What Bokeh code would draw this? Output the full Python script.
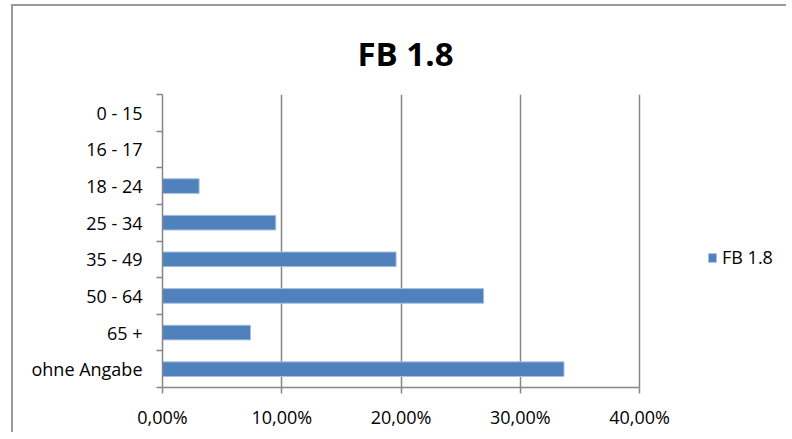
from bokeh.plotting import figure
from bokeh.models import ColumnDataSource, FixedTicker, Range1d, Legend, LegendItem
from bokeh.embed import file_html
from bokeh.resources import INLINE

categories = ["0 - 15", "16 - 17", "18 - 24", "25 - 34", "35 - 49", "50 - 64", "65 +", "ohne Angabe"]
values = [0.0, 0.0, 0.0307, 0.0950, 0.1959, 0.2693, 0.0738, 0.3367]
series_name = "FB 1.8"
x_ticks = [0.0, 0.1, 0.2, 0.3, 0.4]
x_tick_labels = ["0,00%", "10,00%", "20,00%", "30,00%", "40,00%"]

FONT = "Open Sans"
GRID = "#868686"
n = len(categories)
ypos = [n - i - 0.5 for i in range(n)]

W, H = 775, 428
LEFT, TOP, BOTTOM = 149, 88, 47
AXIS_PX = 477  # pixel length of the 0..40% axis
x_end = x_ticks[-1] * (W - LEFT) / AXIS_PX

src = ColumnDataSource(dict(y=ypos, v=values, cat=categories))

p = figure(width=W, height=H, output_backend="svg", toolbar_location=None,
           x_range=Range1d(0, x_end), y_range=Range1d(0, n),
           min_border_left=LEFT, min_border_right=0, min_border_top=TOP, min_border_bottom=BOTTOM)
p.styles = {"margin-left": "11px", "margin-top": "4px",
            "border-left": "2px solid #9a9a9a", "border-top": "2px solid #9a9a9a"}

p.title.text = series_name
p.title.align = "left"
p.title.text_font = FONT
p.title.text_font_size = "33px"
p.title.text_font_style = "bold"
p.title.text_color = "#000000"
p.title.offset = 195
p.title.standoff = 37

r = p.hbar(y="y", right="v", left=0, height=0.4, source=src,
           fill_color="#4F81BD", line_color="#A9C1E0", line_width=1)

# x axis
xa = p.xaxis[0]
xa.ticker = FixedTicker(ticks=x_ticks, minor_ticks=[])
xa.bounds = (x_ticks[0], x_ticks[-1])
xa.major_label_overrides = {t: l for t, l in zip(x_ticks, x_tick_labels)}
xa.axis_line_color = GRID
xa.axis_line_width = 1.5
xa.major_tick_line_color = GRID
xa.major_tick_line_width = 1.5
xa.major_tick_out = 6
xa.major_tick_in = 0
xa.minor_tick_line_color = None
xa.major_label_standoff = 11
xa.major_label_text_font = FONT
xa.major_label_text_font_size = "18px"
xa.major_label_text_color = "#000000"

# y axis
ya = p.yaxis[0]
bounds = [float(k) for k in range(n + 1)]
ya.ticker = FixedTicker(ticks=ypos, minor_ticks=bounds)
ya.major_label_overrides = {y: c for y, c in zip(ypos, categories)}
ya.axis_line_color = GRID
ya.axis_line_width = 1.5
ya.major_tick_line_color = None
ya.major_tick_out = 0
ya.major_tick_in = 0
ya.minor_tick_line_color = GRID
ya.minor_tick_line_width = 1.5
ya.minor_tick_out = 6
ya.minor_tick_in = 0
ya.major_label_standoff = 14
ya.major_label_text_font = FONT
ya.major_label_text_font_size = "18px"
ya.major_label_text_color = "#000000"

p.xgrid.grid_line_color = GRID
p.xgrid.grid_line_width = 1.5
p.xgrid.bounds = (x_ticks[0], x_ticks[-1])
p.ygrid.grid_line_color = None
p.outline_line_color = None
p.background_fill_color = "white"
p.border_fill_color = "white"

legend = Legend(items=[LegendItem(label=series_name, renderers=[r])],
                location=(545, 118), border_line_color=None, background_fill_alpha=0,
                padding=0, margin=0, glyph_width=10, glyph_height=11, label_standoff=5,
                label_text_font=FONT, label_text_font_size="18px", label_text_color="#000000")
p.add_layout(legend, "center")

open("out.html", "w").write(file_html(p, INLINE))
